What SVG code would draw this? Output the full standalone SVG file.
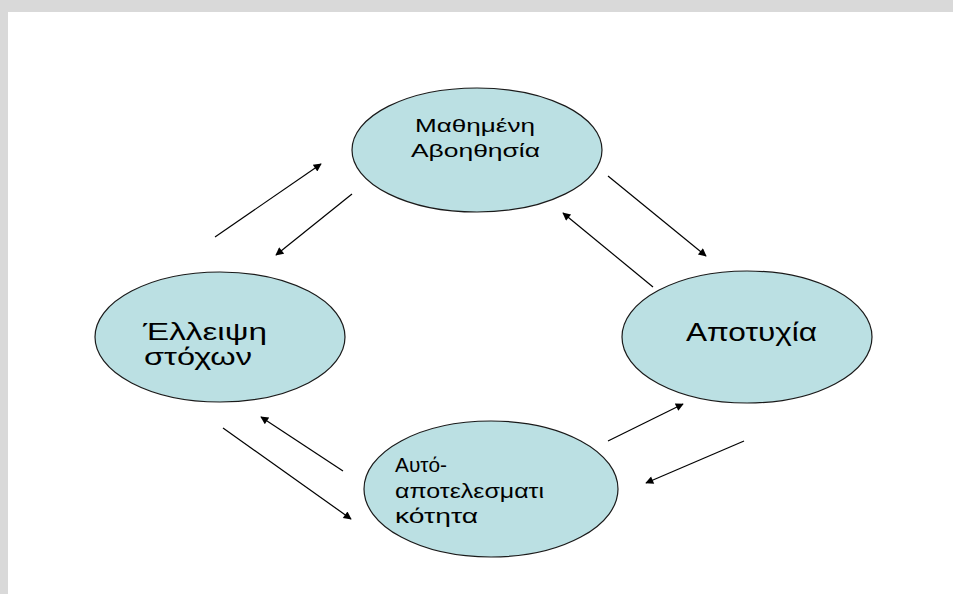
<svg xmlns="http://www.w3.org/2000/svg" width="953" height="594" viewBox="0 0 953 594">
<style>
.node ellipse{fill:#bbe0e3;stroke:#1a1a1a;stroke-width:1.2}
.node text{font-family:"Liberation Sans",Arial,sans-serif;fill:#000}
.conn line{stroke:#000;stroke-width:1.2;marker-end:url(#ah)}
</style>
<defs>
<marker id="ah" viewBox="0 0 10 10" refX="9" refY="5" markerWidth="10" markerHeight="8" markerUnits="userSpaceOnUse" orient="auto">
<path d="M0,0 L10,5 L0,10 z" fill="#000"/>
</marker>
</defs>
<rect x="0" y="0" width="953" height="594" fill="#d9d9d9"/>
<rect x="8" y="12" width="945" height="582" fill="#fff"/>
<g id="node-mathimeni" class="node">
<ellipse cx="477" cy="150" rx="125" ry="62"/>
<text x="415" y="132" font-size="18.5" textLength="120" lengthAdjust="spacingAndGlyphs">Μαθημένη</text>
<text x="411" y="157" font-size="18.5" textLength="129" lengthAdjust="spacingAndGlyphs">Αβοηθησία</text>
</g>
<g id="node-elleipsi" class="node">
<ellipse cx="220" cy="337" rx="125" ry="65"/>
<text x="143" y="340" font-size="24" textLength="124" lengthAdjust="spacingAndGlyphs">Έλλειψη</text>
<text x="144" y="365" font-size="24" textLength="108" lengthAdjust="spacingAndGlyphs">στόχων</text>
</g>
<g id="node-apotychia" class="node">
<ellipse cx="747" cy="337" rx="125" ry="66"/>
<text x="686" y="341" font-size="26" textLength="131" lengthAdjust="spacingAndGlyphs">Αποτυχία</text>
</g>
<g id="node-aytoapotelesmatikotita" class="node">
<ellipse cx="491" cy="489" rx="127" ry="68"/>
<text x="395" y="472" font-size="21" textLength="52" lengthAdjust="spacingAndGlyphs">Αυτό-</text>
<text x="395" y="498" font-size="21" textLength="149" lengthAdjust="spacingAndGlyphs">αποτελεσματι</text>
<text x="395" y="523" font-size="21" textLength="83" lengthAdjust="spacingAndGlyphs">κότητα</text>
</g>
<g id="connectors" class="conn">
<line x1="215" y1="237" x2="321" y2="164"/>
<line x1="352" y1="194" x2="276" y2="255"/>
<line x1="608" y1="176" x2="706" y2="256"/>
<line x1="653" y1="287" x2="563" y2="213"/>
<line x1="343" y1="471" x2="261" y2="417"/>
<line x1="223" y1="428" x2="351" y2="519"/>
<line x1="608" y1="441" x2="683" y2="404"/>
<line x1="744" y1="441" x2="646" y2="483"/>
</g>
</svg>
